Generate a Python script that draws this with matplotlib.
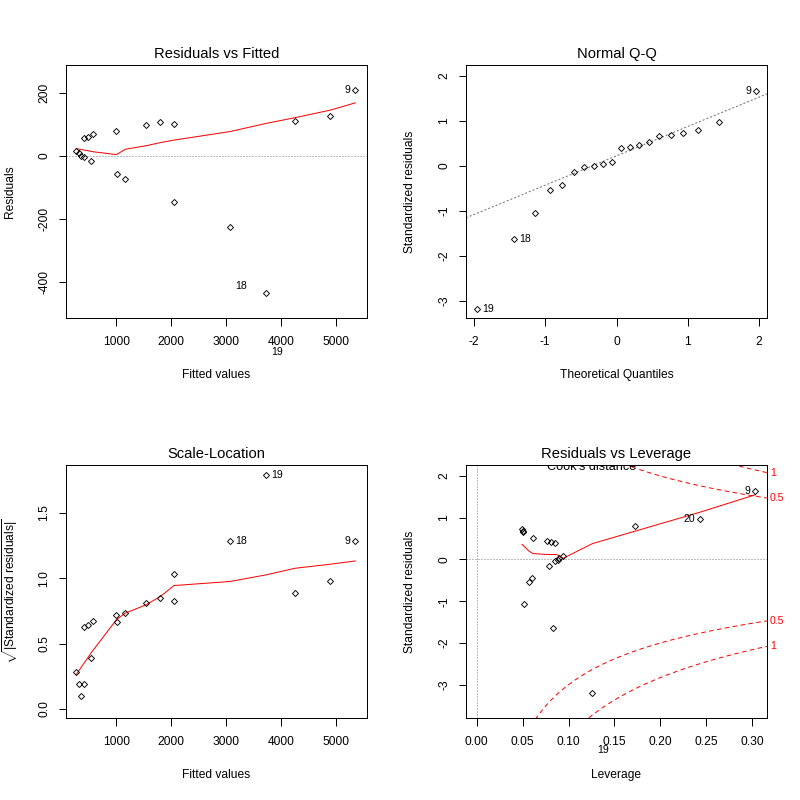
import numpy as np
import matplotlib
matplotlib.use("Agg")
import matplotlib.pyplot as plt
from matplotlib.transforms import blended_transform_factory, offset_copy

plt.rcParams['font.family'] = ['Liberation Sans', 'DejaVu Sans']
plt.rcParams['mathtext.fontset'] = 'custom'
plt.rcParams['mathtext.rm'] = 'Liberation Sans'
plt.rcParams['mathtext.it'] = 'Liberation Sans:italic'
plt.rcParams['axes.unicode_minus'] = False
plt.rcParams['lines.scale_dashes'] = False

# ---------------- data ----------------
fitted = [271, 313, 350, 416, 416, 489, 581, 538, 1000, 1012, 1164, 1541,
          1802, 2052, 2052, 3073, 3736, 4258, 4903, 5359]
residuals = [16, 9, -1, -4, 56, 60, 70, -16, 78, -57, -73, 98,
             107, 101, -146, -225, -435, 110, 127, 210]
std_resid = [0.08, 0.036, -0.01, -0.036, 0.39, 0.41, 0.45, -0.15, 0.52, -0.44,
             -0.54, 0.65, 0.72, 0.68, -1.06, -1.64, -3.19, 0.79, 0.96, 1.65]
leverage = [0.0943, 0.090, 0.088, 0.0856, 0.0853, 0.0809, 0.0766, 0.079, 0.0617,
            0.0606, 0.057, 0.0505, 0.0494, 0.0502, 0.0519, 0.083, 0.126,
            0.1727, 0.2427, 0.3032]
theo_quantiles = [-1.96, -1.44, -1.15, -0.93, -0.76, -0.60, -0.45, -0.32, -0.19,
                  -0.06, 0.06, 0.19, 0.32, 0.45, 0.60, 0.76, 0.93, 1.15, 1.44, 1.96]
smooth_resid_fitted = [23, 21.6, 20.4, 18.3, 18.3, 15.9, 12.9, 14.4, 4, 5, 21, 32,
                       42, 50, 50, 77, 103, 121, 145, 168]
smooth_scale_loc = [0.265, 0.29, 0.313, 0.353, 0.353, 0.397, 0.451, 0.427, 0.681,
                    0.686, 0.732, 0.796, 0.859, 0.943, 0.943, 0.974, 1.025,
                    1.075, 1.106, 1.131]
smooth_resid_lev = [0.03, 0.07, 0.11, 0.12, 0.12, 0.12, 0.12, 0.12, 0.14, 0.15,
                    0.20, 0.34, 0.36, 0.35, 0.31, 0.12, 0.38, 0.68, 1.13, 1.55]
# labelled observations: id -> index into the arrays above
ids_resid = {"9": 19, "18": 15, "19": 16}
ids_cook = {"9": 19, "20": 18, "19": 16}
cook_levels = [0.5, 1]
n_params = 2

fitted = np.array(fitted, float)
residuals = np.array(residuals, float)
std_resid = np.array(std_resid, float)
leverage = np.array(leverage, float)

# ---------------- style ----------------
PX = 72.0 / 100.0          # points per pixel
W = H = 800
fig = plt.figure(figsize=(8, 8), dpi=100)


def add_ax(l, t, r, b):
    return fig.add_axes([l / W, 1 - b / H, (r - l) / W, (b - t) / H])


ax1 = add_ax(66, 65, 367, 318)
ax2 = add_ax(466, 65, 767, 318)
ax3 = add_ax(66, 465, 367, 718)
ax4 = add_ax(466, 465, 767, 718)

TICK_FS = 12 * PX
LAB_FS = 12 * PX
TITLE_FS = 14.8 * PX
ID_FS = 10.5 * PX
LW = PX


def style(ax, title, xlabel, ylabel, xticks, xlabels, yticks, ylabels, xlim, ylim):
    ax.set_xlim(*xlim)
    ax.set_ylim(*ylim)
    ax.set_title(title, fontsize=TITLE_FS, pad=5)
    for s in ax.spines.values():
        s.set_linewidth(PX)
        s.set_antialiased(False)
    ax.set_xticks(xticks, xlabels)
    ax.set_yticks(yticks, ylabels, rotation=90, va='center', ha='right')
    ax.tick_params(direction='out', length=7.5 * PX, width=PX, labelsize=TICK_FS,
                   color='black')
    ax.tick_params(axis='x', pad=7.5)
    ax.tick_params(axis='y', pad=6)
    ax.set_xlabel(xlabel, fontsize=LAB_FS)
    ax.set_ylabel(ylabel, fontsize=LAB_FS)
    ax.xaxis.set_label_coords(0.5, -0.225)
    ax.xaxis.label.set_va('center')
    ax.yaxis.set_label_coords(-0.186, 0.5)
    ax.yaxis.label.set_va('center')


def points(ax, x, y):
    ax.plot(x, y, linestyle='none', marker='D', ms=3.1, mfc='none', mec='black',
            mew=0.65, antialiased=True, clip_on=False)


def red_line(ax, x, y):
    order = np.argsort(x, kind='stable')
    ax.plot(np.asarray(x)[order], np.asarray(y)[order], color='red', lw=LW,
            antialiased=True)


def id_label(ax, text, x, y, side, dy_px=0.0):
    if side == 'right':
        ax.annotate(text, (x, y), xytext=(5 * PX, -dy_px * PX), textcoords='offset points',
                    ha='left', va='center', fontsize=ID_FS, annotation_clip=False)
    else:
        ax.annotate(text, (x, y), xytext=(-4.5 * PX, -dy_px * PX), textcoords='offset points',
                    ha='right', va='center', fontsize=ID_FS, annotation_clip=False)


DOT = (0, (2 * PX, 2 * PX))
DASH = (0, (4.5 * PX, 3.5 * PX))

fit_ticks = [1000, 2000, 3000, 4000, 5000]
side_resid = {"9": 'left', "18": 'right', "19": 'right'}
drop_resid = {"9": 0, "18": 59, "19": 59}
side_cook = {"9": 'left', "20": 'left', "19": 'right'}
drop_cook = {"9": 0, "20": 0, "19": 57}

# ---------------- Residuals vs Fitted ----------------
style(ax1, "Residuals vs Fitted", "Fitted values", "Residuals",
      fit_ticks, [str(t) for t in fit_ticks],
      [-400, -200, 0, 200], ["-400", "-200", "0", "200"],
      (82, 5572), (-514, 288))
ax1.axhline(0, color='#BEBEBE', lw=LW, linestyle=DOT, antialiased=False)
red_line(ax1, fitted, smooth_resid_fitted)
points(ax1, fitted, residuals)
for lab, i in ids_resid.items():
    id_label(ax1, lab, fitted[i], residuals[i], side_resid[lab], drop_resid[lab])

# ---------------- Normal Q-Q ----------------
style(ax2, "Normal Q-Q", "Theoretical Quantiles", "Standardized residuals",
      [-2, -1, 0, 1, 2], ["-2", "-1", "0", "1", "2"],
      [-3, -2, -1, 0, 1, 2], ["-3", "-2", "-1", "0", "1", "2"],
      (-2.112, 2.112), (-3.387, 2.237))
order = np.argsort(std_resid)
sorted_sr = std_resid[order]
yq = np.quantile(std_resid, [0.25, 0.75])
xq = np.array([-0.6745, 0.6745])
slope = (yq[1] - yq[0]) / (xq[1] - xq[0])
intercept = yq[0] - slope * xq[0]
ax2.axline((0, intercept), slope=slope, color='#6E6E6E', lw=LW, linestyle=DOT,
           antialiased=True)
points(ax2, theo_quantiles, sorted_sr)
rank = {int(o): k for k, o in enumerate(order)}
for lab, i in ids_resid.items():
    k = rank[i]
    side = 'left' if theo_quantiles[k] > 0 else 'right'
    id_label(ax2, lab, theo_quantiles[k], sorted_sr[k], side)

# ---------------- Scale-Location ----------------
sl = np.sqrt(np.abs(std_resid))
style(ax3, "Scale-Location", "Fitted values",
      r"$\sqrt{|\mathrm{Standardized\ residuals}|}$",
      fit_ticks, [str(t) for t in fit_ticks],
      [0.0, 0.5, 1.0, 1.5], ["0.0", "0.5", "1.0", "1.5"],
      (82, 5572), (-0.069, 1.864))
red_line(ax3, fitted, smooth_scale_loc)
points(ax3, fitted, sl)
for lab, i in ids_resid.items():
    id_label(ax3, lab, fitted[i], sl[i], side_resid[lab])

# ---------------- Residuals vs Leverage ----------------
lev_ticks = [0.0, 0.05, 0.10, 0.15, 0.20, 0.25, 0.30]
style(ax4, "Residuals vs Leverage", "Leverage", "Standardized residuals",
      lev_ticks, ["%.2f" % t for t in lev_ticks],
      [-3, -2, -1, 0, 1, 2], ["-3", "-2", "-1", "0", "1", "2"],
      (-0.0116, 0.316), (-3.797, 2.263))
ax4.axhline(0, color='#BEBEBE', lw=LW, linestyle=DOT, antialiased=False)
ax4.axvline(0, color='#BEBEBE', lw=LW, linestyle=DOT, antialiased=False)
xmax = ax4.get_xlim()[1]
hh = np.linspace(min(leverage.min(), leverage.max() / 100), xmax, 101)
for crit in cook_levels:
    cl = np.sqrt(crit * n_params * (1 - hh) / hh)
    ax4.plot(hh, cl, color='red', lw=LW, linestyle=DASH, antialiased=True)
    ax4.plot(hh, -cl, color='red', lw=LW, linestyle=DASH, antialiased=True)
ymult = np.sqrt(n_params * (1 - xmax) / xmax)
tr = offset_copy(blended_transform_factory(ax4.transAxes, ax4.transData), fig=fig,
                 x=3 * PX, y=0, units='points')
for crit in cook_levels:
    aty = np.sqrt(crit) * ymult
    for yv in (aty, -aty):
        ax4.text(1.0, yv, "%g" % crit, transform=tr, color='red', fontsize=ID_FS,
                 ha='left', va='center', clip_on=False)
red_line(ax4, leverage, smooth_resid_lev)
points(ax4, leverage, std_resid)
for lab, i in ids_cook.items():
    id_label(ax4, lab, leverage[i], std_resid[i], side_cook[lab], drop_cook[lab])
ax4.text(0.125, 2.135, "Cook's distance", fontsize=12.6 * PX, ha='center', va='baseline',
         clip_on=True)

fig.savefig("out.png", dpi=100)
